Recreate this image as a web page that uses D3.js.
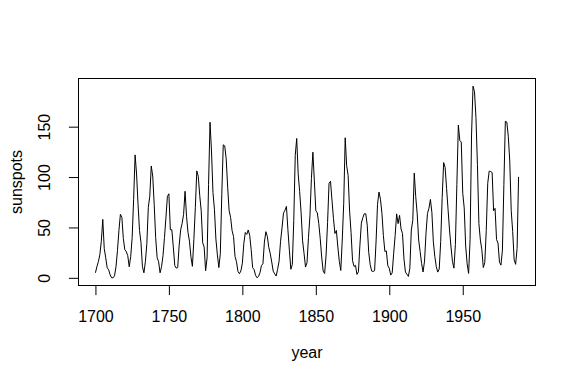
<!DOCTYPE html>
<html><head><meta charset="utf-8">
<script src="https://cdn.jsdelivr.net/npm/d3@7"></script>
<style>
html,body{margin:0;padding:0;background:#fff;}
svg text{font-family:"Liberation Sans",Arial,Helvetica,sans-serif;font-size:16px;fill:#000;}
</style></head>
<body>
<svg id="c" width="576" height="384"></svg>
<script>
const startYear = 1700;
const sunspots = [
5,11,16,23,36,58,29,20,10,8,
3,0,0,2,11,27,47,63,60,39,
28,26,22,11,21,40,78,122,103,73,
47,35,11,5,16,34,70,81,111,101,
73,40,20,16,5,11,22,40,60,80.9,
83.4,47.7,47.8,30.7,12.2,9.6,10.2,32.4,47.6,54,
62.9,85.9,61.2,45.1,36.4,20.9,11.4,37.8,69.8,106.1,
100.8,81.6,66.5,34.8,30.6,7,19.8,92.5,154.4,125.9,
84.8,68.1,38.5,22.8,10.2,24.1,82.9,132,130.9,118.1,
89.9,66.6,60,46.9,41,21.3,16,6.4,4.1,6.8,
14.5,34,45,43.1,47.5,42.2,28.1,10.1,8.1,2.5,
0,1.4,5,12.2,13.9,35.4,45.8,41.1,30.1,23.9,
15.6,6.6,4,1.8,8.5,16.6,36.3,49.6,64.2,67,
70.9,47.8,27.5,8.5,13.2,56.9,121.5,138.3,103.2,85.7,
64.6,36.7,24.2,10.7,15,40.1,61.5,98.5,124.7,96.3,
66.6,64.5,54.1,39,20.6,6.7,4.3,22.7,54.8,93.8,
95.8,77.2,59.1,44,47,30.5,16.3,7.3,37.6,74,
139,111.2,101.6,66.2,44.7,17,11.3,12.4,3.4,6,
32.3,54.3,59.7,63.7,63.5,52.2,25.4,13.1,6.8,6.3,
7.1,35.6,73,85.1,78,64,41.8,26.2,26.7,12.1,
9.5,2.7,5,24.4,42,63.5,53.8,62,48.5,43.9,
18.6,5.7,3.6,1.4,9.6,47.4,57.1,103.9,80.6,63.6,
37.6,26.1,14.2,5.8,16.7,44.3,63.9,69,77.8,64.9,
35.7,21.2,11.1,5.7,8.7,36.1,79.7,114.4,109.6,88.8,
67.8,47.5,30.6,16.3,9.6,33.2,92.6,151.6,136.3,134.7,
83.9,69.4,31.5,13.9,4.4,38,141.7,190.2,184.8,159,
112.3,53.9,37.5,27.9,10.2,15.1,47,93.8,105.9,105.5,
104.5,66.6,68.9,38,34.5,15.5,12.6,27.5,92.5,155.4,
154.6,140.5,115.9,66.6,45.9,17.9,13.4,29.2,100.2
];
const xTicks = [1700,1750,1800,1850,1900,1950];
const yTicks = [0,50,100,150];
const xLabel = "year";
const yLabel = "sunspots";

const years = sunspots.map((v,i)=>startYear+i);
const data = years.map((y,i)=>({year:y,value:sunspots[i]}));

const L=78.5, R=535.5, T=78.5, B=285.5;
const svg = d3.select("#c");

const xmin = d3.min(years), xmax = d3.max(years);
const xext = (xmax-xmin)*0.04;
const ymin = 0, ymax = d3.max(sunspots);
const yext = (ymax-ymin)*0.04;
const x = d3.scaleLinear().domain([xmin-xext, xmax+xext]).range([L,R]);
const y = d3.scaleLinear().domain([ymin-yext, ymax+yext]).range([B,T]);

// series line
svg.append("path").datum(data)
  .attr("fill","none").attr("stroke","#000").attr("stroke-width",1)
  .attr("stroke-linejoin","round")
  .attr("d", d3.line().x(d=>x(d.year)).y(d=>y(d.value)));

// box
svg.append("rect").attr("x",L).attr("y",T).attr("width",R-L).attr("height",B-T)
  .attr("fill","none").attr("stroke","#000").attr("stroke-width",1);

// x axis
const xa = svg.append("g").attr("transform",`translate(0,${B})`)
  .call(d3.axisBottom(x).tickValues(xTicks).tickFormat(d3.format("d")).tickSize(9.6).tickPadding(0));
xa.select(".domain").attr("d",`M${x(xTicks[0])},0H${x(xTicks[xTicks.length-1])}`).attr("stroke","#000");
xa.selectAll(".tick line").attr("stroke","#000");
xa.selectAll(".tick text").attr("dy",null).attr("y",36.3)
  .style("font-size","16px").style("font-family","'Liberation Sans',Arial,sans-serif").attr("fill","#000");

// y axis
const ya = svg.append("g").attr("transform",`translate(${L},0)`)
  .call(d3.axisLeft(y).tickValues(yTicks).tickFormat(d3.format("d")).tickSize(9.6).tickPadding(0));
ya.select(".domain").attr("d",`M0,${y(yTicks[0])}V${y(yTicks[yTicks.length-1])}`).attr("stroke","#000");
ya.selectAll(".tick line").attr("stroke","#000");
ya.selectAll(".tick text").each(function(){
  const t=d3.select(this);
  t.attr("x",null).attr("dy",null).attr("text-anchor","middle")
   .attr("transform","translate(-28.3,0) rotate(-90)")
   .style("font-size","16px").style("font-family","'Liberation Sans',Arial,sans-serif").attr("fill","#000");
});

// axis titles
svg.append("text").attr("x",(L+R)/2).attr("y",358).attr("text-anchor","middle").text(xLabel);
svg.append("text").attr("transform",`translate(21.5,${(T+B)/2}) rotate(-90)`)
  .attr("text-anchor","middle").text(yLabel);
</script>
</body></html>
